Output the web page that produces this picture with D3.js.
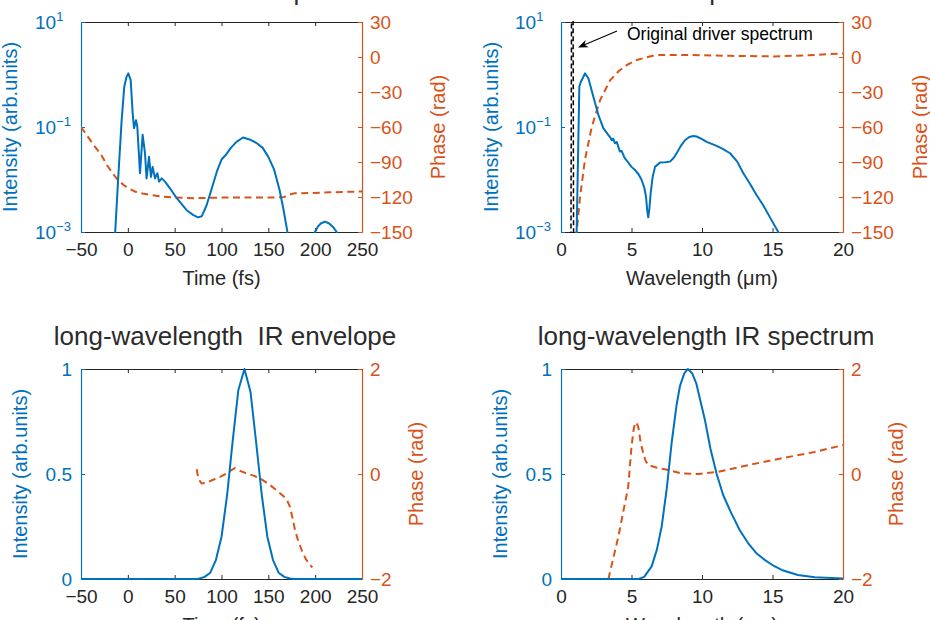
<!DOCTYPE html>
<html><head><meta charset="utf-8">
<script src="https://cdn.jsdelivr.net/npm/d3@7"></script>
<style>
html,body{margin:0;padding:0;background:#fff;}
svg{display:block;font-family:"Liberation Sans",Arial,Helvetica,sans-serif;}
</style></head><body>
<svg id="chart" width="930" height="620"></svg>
<script>
// ---------------- DATA ----------------
const titles = ["Total IR envelope", "Total IR spectrum", "long-wavelength  IR envelope", "long-wavelength IR spectrum"];
const timeTicks = [-50, 0, 50, 100, 150, 200, 250];
const wlTicks = [0, 5, 10, 15, 20];
const logTicks = [10, 0.1, 0.001];
const phaseTicksTop = [-150, -120, -90, -60, -30, 0, 30];
const linTicks = [0, 0.5, 1];
const phaseTicksBottom = [-2, 0, 2];

// Panel a: total IR envelope (log intensity) + phase
const envTime = [-15, -13.5, -10.2, -6.6, -3.8, -1.5, 0.5, 3, 5.2, 6.6, 8.7, 10.1, 13, 15.8, 18.3, 20, 22.6, 24.7, 26.5, 29, 31.5, 33.3, 36.2, 39.7, 45, 52.2, 62.8, 70, 75, 79, 84, 90, 95, 100, 105, 110, 116, 123, 130, 137, 144, 150, 156, 162, 166, 170, 172, 184, 196, 199.8, 203, 206, 210.5, 215, 219, 223, 226];
const envIntensity = [0.0003, 0.001, 0.0112, 0.135, 0.59, 0.89, 1.05, 0.79, 0.18, 0.095, 0.135, 0.102, 0.0132, 0.071, 0.032, 0.0105, 0.027, 0.0112, 0.0174, 0.0105, 0.0132, 0.0091, 0.0105, 0.0091, 0.0068, 0.0044, 0.0026, 0.0021, 0.0019, 0.002, 0.0032, 0.0071, 0.0141, 0.024, 0.030, 0.040, 0.052, 0.063, 0.058, 0.050, 0.040, 0.027, 0.0158, 0.0063, 0.0028, 0.0011, 0.00063, 0.00001, 0.0004, 0.001, 0.00128, 0.00145, 0.00158, 0.00145, 0.00125, 0.001, 0.0006];
const envPhaseTime = [-50, -43, -36, -29, -22, -16, -10, -4, 2, 8, 16, 24, 35, 50, 70, 100, 130, 160, 167, 172, 178, 195, 215, 235, 250];
const envPhase = [-60, -68, -76, -83, -93, -100, -106, -110, -113, -115.5, -117, -118.3, -119.5, -120.5, -121, -120.5, -120.5, -120.3, -120, -118, -116.8, -116.6, -116, -115.6, -115.3];

// Panel b: total IR spectrum (log intensity) + phase + driver
const specWl = [1.05, 1.11, 1.30, 1.40, 1.54, 1.70, 1.94, 2.29, 2.65, 3.0, 3.35, 3.5, 3.6, 3.7, 3.83, 3.95, 4.18, 4.3, 4.5, 4.66, 5.0, 5.25, 5.5, 5.72, 5.9, 6.03, 6.12, 6.19, 6.27, 6.36, 6.5, 6.67, 7.02, 7.4, 7.73, 8.0, 8.2, 8.5, 8.79, 9.1, 9.38, 9.62, 10.0, 10.33, 11.04, 11.5, 11.99, 12.5, 12.93, 13.4, 13.88, 14.35, 14.82, 15.41, 16];
const specIntensity = [0.0003, 0.001, 0.59, 0.72, 0.85, 1.05, 0.85, 0.38, 0.17, 0.095, 0.071, 0.063, 0.056, 0.060, 0.049, 0.052, 0.034, 0.035, 0.026, 0.023, 0.0174, 0.0151, 0.0126, 0.0098, 0.0071, 0.0047, 0.0025, 0.0019, 0.0028, 0.0055, 0.0112, 0.0174, 0.021, 0.0214, 0.0219, 0.026, 0.0316, 0.0437, 0.056, 0.0646, 0.0676, 0.066, 0.059, 0.052, 0.0437, 0.038, 0.0316, 0.0219, 0.0132, 0.0083, 0.005, 0.0032, 0.0019, 0.001, 0.0005];
const specPhaseWl = [1.05, 1.11, 1.35, 1.70, 2.18, 2.77, 3.48, 4.1, 4.66, 5.25, 5.84, 6.5, 7.02, 9.38, 12, 15.1, 17.5, 20];
const specPhase = [-165, -150, -120, -88, -60, -37, -20, -12, -7, -3, -1, 1, 1.7, 1.7, 1, 0.5, 1.5, 3];
const driverWl = [0.70, 0.76, 0.84, 0.90];
const driverIntensity = [0.0001, 1000, 1000, 0.0001];

// Panel c: long-wavelength IR envelope
const lwEnvTime = [-50, 75, 82, 88, 94, 100, 106, 112, 118, 124.5, 131, 137, 143, 149, 155, 161, 167, 173, 178, 250];
const lwEnvIntensity = [0, 0, 0.01, 0.03, 0.09, 0.2, 0.4, 0.66, 0.9, 1.0, 0.89, 0.65, 0.4, 0.2, 0.09, 0.03, 0.01, 0.002, 0, 0];
const lwEnvPhaseTime = [73.5, 75.5, 78.8, 85, 91, 98, 105.5, 110, 114.4, 120, 126.9, 134, 141, 146, 151.8, 158, 166, 170, 173, 176, 178.5, 182, 185.6, 190, 194.5, 197];
const lwEnvPhase = [0.09, -0.1, -0.18, -0.16, -0.11, -0.06, 0.01, 0.07, 0.11, 0.06, 0.01, -0.03, -0.08, -0.14, -0.21, -0.3, -0.42, -0.5, -0.62, -0.85, -1.07, -1.28, -1.45, -1.62, -1.73, -1.78];

// Panel d: long-wavelength IR spectrum
const lwSpecWl = [0, 5.5, 5.9, 6.43, 6.8, 7.14, 7.5, 7.85, 8.2, 8.44, 8.75, 9.0, 9.3, 9.6, 10.2, 10.6, 11.04, 11.5, 12.1, 12.7, 13.28, 13.9, 14.47, 15.1, 15.65, 16.8, 18, 20];
const lwSpecIntensity = [0, 0, 0.01, 0.06, 0.14, 0.25, 0.43, 0.65, 0.83, 0.92, 0.98, 1.0, 0.98, 0.93, 0.76, 0.62, 0.5, 0.4, 0.31, 0.23, 0.17, 0.12, 0.09, 0.062, 0.043, 0.019, 0.008, 0.002];
const lwSpecPhaseWl = [3.36, 4.07, 4.77, 5.0, 5.15, 5.25, 5.35, 5.48, 5.65, 5.84, 6.0, 6.19, 6.8, 7.38, 8.56, 9.74, 11.16, 13.28, 15.65, 18.0, 20];
const lwSpecPhase = [-2, -1.19, -0.24, 0.52, 0.85, 0.97, 0.98, 0.9, 0.6, 0.39, 0.25, 0.17, 0.12, 0.09, 0.01, 0.0, 0.04, 0.17, 0.3, 0.42, 0.55];

// ---------------- DRAWING ----------------
const BLUE = "#0072BD", ORANGE = "#D95319", DARK = "#262626";
const svg = d3.select("#chart");
svg.append("rect").attr("width", 930).attr("height", 620).attr("fill", "#fff");
const fmt = d3.format("");
const zip = (a, b) => a.map((v, i) => [v, b[i]]);

function drawPanel(p) {
  const g = svg.append("g");
  const x = d3.scaleLinear().domain(p.xDomain).range([p.x0, p.x1]);
  const y = (p.logY ? d3.scaleLog() : d3.scaleLinear()).domain(p.yDomain).range([p.y1, p.y0]);
  const y2 = d3.scaleLinear().domain(p.y2Domain).range([p.y1, p.y0]);
  const clipId = "clip" + p.id;
  svg.append("clipPath").attr("id", clipId).append("rect")
    .attr("x", p.x0).attr("y", p.y0 - 1).attr("width", p.x1 - p.x0).attr("height", p.y1 - p.y0 + 2);

  const bx = g.append("g").attr("transform", `translate(0,${p.y1})`)
    .call(d3.axisBottom(x).tickValues(p.xTicks).tickFormat(fmt).tickSizeInner(-4).tickSizeOuter(0).tickPadding(11));
  bx.selectAll("text").attr("fill", DARK).style("font-size", "19px");
  const tx = g.append("g").attr("transform", `translate(0,${p.y0})`)
    .call(d3.axisTop(x).tickValues(p.xTicks).tickFormat("").tickSizeInner(-4).tickSizeOuter(0));
  [bx, tx].forEach(a => { a.select(".domain").attr("stroke", DARK); a.selectAll(".tick line").attr("stroke", DARK); });

  const lx = g.append("g").attr("transform", `translate(${p.x0},0)`)
    .call(d3.axisLeft(y).tickValues(p.yTicks).tickFormat(p.logY ? () => "" : fmt).tickSizeInner(-4).tickSizeOuter(0).tickPadding(9));
  lx.select(".domain").attr("stroke", BLUE).attr("stroke-width", 1.2);
  lx.selectAll(".tick line").attr("stroke", BLUE);
  lx.selectAll("text").attr("fill", BLUE).style("font-size", "19px");
  if (p.logY) {
    p.yTicks.forEach(v => {
      const e = Math.round(Math.log10(v));
      const t = g.append("text").attr("x", p.x0 - 46).attr("y", y(v) + 7).attr("fill", BLUE).style("font-size", "19px");
      t.append("tspan").text("10");
      t.append("tspan").attr("dy", -8).style("font-size", "13px").text(d3.format("")(e));
    });
  }
  const rx = g.append("g").attr("transform", `translate(${p.x1},0)`)
    .call(d3.axisRight(y2).tickValues(p.y2Ticks).tickFormat(fmt).tickSizeInner(-4).tickSizeOuter(0).tickPadding(8));
  rx.select(".domain").attr("stroke", ORANGE).attr("stroke-width", 1.2);
  rx.selectAll(".tick line").attr("stroke", ORANGE);
  rx.selectAll("text").attr("fill", ORANGE).style("font-size", "19px");

  const lines = g.append("g").attr("clip-path", `url(#${clipId})`);
  const l1 = d3.line().x(d => x(d[0])).y(d => y(d[1]));
  const l2 = d3.line().x(d => x(d[0])).y(d => y2(d[1]));
  if (p.driver) {
    lines.append("path").datum(p.driver).attr("d", l1).attr("fill", "none")
      .attr("stroke", "#000").attr("stroke-width", 1.5).attr("stroke-dasharray", "5,3");
  }
  lines.append("path").datum(p.phase).attr("d", l2).attr("fill", "none")
    .attr("stroke", ORANGE).attr("stroke-width", 2).attr("stroke-dasharray", "7,4.5");
  lines.append("path").datum(p.intensity).attr("d", l1).attr("fill", "none")
    .attr("stroke", BLUE).attr("stroke-width", 2).attr("stroke-linejoin", "round");

  const cx = (p.x0 + p.x1) / 2, cy = (p.y0 + p.y1) / 2;
  g.append("text").attr("x", cx).attr("y", p.y1 + 53).attr("text-anchor", "middle")
    .attr("fill", DARK).style("font-size", "20px").text(p.xLabel);
  g.append("text").attr("transform", `translate(${p.yLabelX},${cy}) rotate(-90)`).attr("text-anchor", "middle")
    .attr("fill", BLUE).style("font-size", "20px").text("Intensity (arb.units)");
  g.append("text").attr("transform", `translate(${p.y2LabelX},${cy}) rotate(-90)`).attr("text-anchor", "middle")
    .attr("fill", ORANGE).style("font-size", "20px").text("Phase (rad)");
  g.append("text").attr("x", p.titleX).attr("y", p.titleY).attr("text-anchor", "middle")
    .attr("fill", "#2b2b2b").style("font-size", "26px").style("white-space", "pre").text(p.title);
}

drawPanel({
  id: "a", x0: 81, x1: 362, y0: 22, y1: 232,
  xDomain: [-50, 250], xTicks: timeTicks, xLabel: "Time (fs)",
  logY: true, yDomain: [0.001, 10], yTicks: logTicks,
  y2Domain: [-150, 30], y2Ticks: phaseTicksTop,
  intensity: zip(envTime, envIntensity), phase: zip(envPhaseTime, envPhase),
  yLabelX: 17, y2LabelX: 445, title: titles[0], titleX: 222, titleY: 0
});
drawPanel({
  id: "b", x0: 561, x1: 843, y0: 22, y1: 232,
  xDomain: [0, 20], xTicks: wlTicks, xLabel: "Wavelength (μm)",
  logY: true, yDomain: [0.001, 10], yTicks: logTicks,
  y2Domain: [-150, 30], y2Ticks: phaseTicksTop,
  intensity: zip(specWl, specIntensity), phase: zip(specPhaseWl, specPhase),
  driver: zip(driverWl, driverIntensity),
  yLabelX: 498, y2LabelX: 927, title: titles[1], titleX: 702, titleY: 0
});
drawPanel({
  id: "c", x0: 81, x1: 362, y0: 369, y1: 579,
  xDomain: [-50, 250], xTicks: timeTicks, xLabel: "Time (fs)",
  logY: false, yDomain: [0, 1], yTicks: linTicks,
  y2Domain: [-2, 2], y2Ticks: phaseTicksBottom,
  intensity: zip(lwEnvTime, lwEnvIntensity), phase: zip(lwEnvPhaseTime, lwEnvPhase),
  yLabelX: 27, y2LabelX: 423, title: titles[2], titleX: 225, titleY: 345
});
drawPanel({
  id: "d", x0: 561, x1: 843, y0: 369, y1: 579,
  xDomain: [0, 20], xTicks: wlTicks, xLabel: "Wavelength (μm)",
  logY: false, yDomain: [0, 1], yTicks: linTicks,
  y2Domain: [-2, 2], y2Ticks: phaseTicksBottom,
  intensity: zip(lwSpecWl, lwSpecIntensity), phase: zip(lwSpecPhaseWl, lwSpecPhase),
  yLabelX: 507, y2LabelX: 903, title: titles[3], titleX: 706, titleY: 345
});

// annotation for driver spectrum
const ann = svg.append("g");
const ax0 = 617, ay0 = 31, ax1 = 578, ay1 = 47.5;
ann.append("line").attr("x1", ax0).attr("y1", ay0).attr("x2", ax1 + 6).attr("y2", ay1 - 2.5)
  .attr("stroke", "#000").attr("stroke-width", 1.1);
const ang = Math.atan2(ay1 - ay0, ax1 - ax0);
const hl = 10, hw = 4;
const bxp = ax1 - hl * Math.cos(ang), byp = ay1 - hl * Math.sin(ang);
ann.append("path").attr("d", `M${ax1},${ay1} L${bxp + hw * Math.sin(ang)},${byp - hw * Math.cos(ang)} L${bxp + 3 * Math.cos(ang)},${byp + 3 * Math.sin(ang)} L${bxp - hw * Math.sin(ang)},${byp + hw * Math.cos(ang)} Z`)
  .attr("fill", "#000");
ann.append("text").attr("x", 627).attr("y", 40).attr("fill", "#000").style("font-size", "17.5px").text("Original driver spectrum");
</script>
</body></html>
